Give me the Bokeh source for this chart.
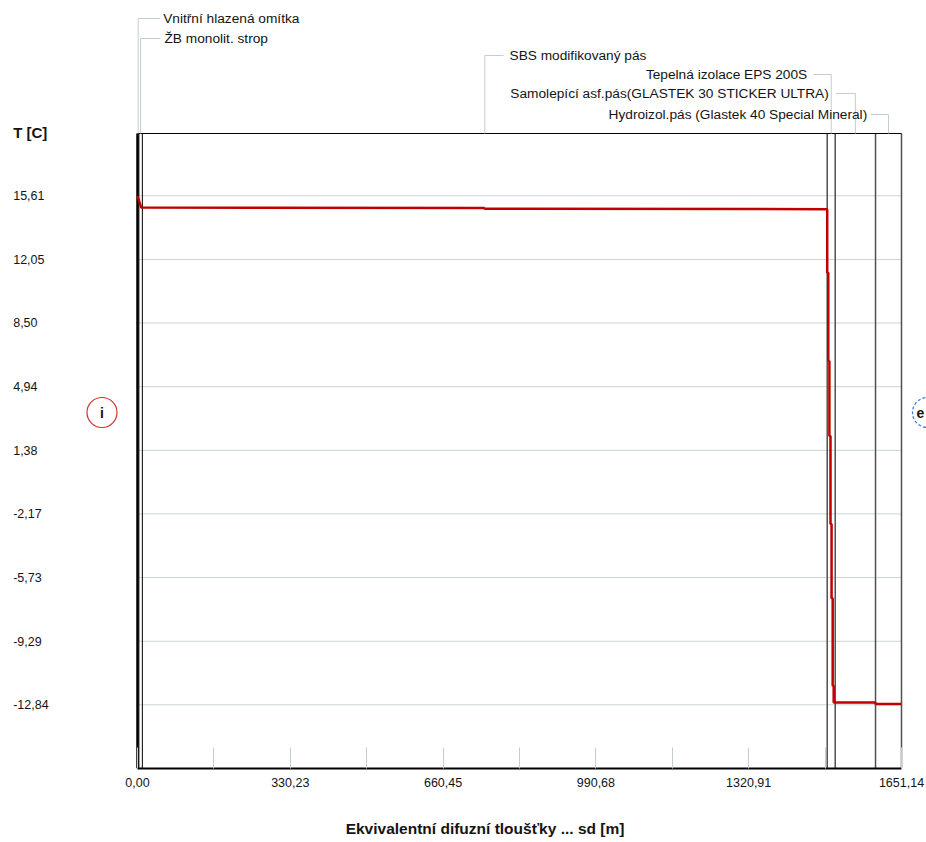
from bokeh.plotting import figure
from bokeh.models import Range1d, FixedTicker
from bokeh.core.properties import value
from bokeh.embed import file_html
from bokeh.resources import INLINE

# ---------------- data ----------------
layer_names = [
    "Vnitřní hlazená omítka",
    "ŽB monolit. strop",
    "SBS modifikovaný pás",
    "Tepelná izolace EPS 200S",
    "Samolepící asf.pás(GLASTEK 30 STICKER ULTRA)",
    "Hydroizol.pás (Glastek 40 Special Mineral)",
]
layer_sd_end = [3.0, 10.5, 1490.6, 1507.9, 1595.0, 1651.14]   # cumulative sd [m]

profile_sd = [0.0, 8.0, 749.8, 749.8, 1490.6,
              1490.6, 1492.9, 1492.9, 1495.3, 1495.3, 1497.7, 1497.7, 1500.0,
              1500.0, 1502.4, 1502.4, 1504.6, 1504.6, 1506.9, 1506.9,
              1595.0, 1595.0, 1651.14]
profile_T = [15.61, 14.95, 14.93, 14.88, 14.86,
             11.31, 11.31, 6.38, 6.38, 2.19, 2.19, -2.74, -2.74,
             -6.88, -6.88, -11.77, -11.77, -12.71, -12.71, -12.71,
             -12.71, -12.79, -12.79]

y_ticks = [15.61, 12.05, 8.50, 4.94, 1.38, -2.17, -5.73, -9.29, -12.84]
y_tick_labels = ["15,61", "12,05", "8,50", "4,94", "1,38", "-2,17", "-5,73", "-9,29", "-12,84"]

x_ticks = [0.0, 165.1135, 330.227, 495.3405, 660.454, 825.5675, 990.681,
           1155.7945, 1320.908, 1486.0215, 1651.14]
x_tick_labels = ["0,00", "", "330,23", "", "660,45", "", "990,68", "", "1320,91", "", "1651,14"]

x_title = "Ekvivalentní difuzní tloušťky ... sd [m]"
y_title = "T [C]"

X_MIN, X_MAX = 0.0, 1651.14
Y_MIN, Y_MAX = -16.40, 19.09

# ---------------- layout / style ----------------
FONT = "Liberation Sans"
TXT = "#141414"
LEADER = "#c4cece"
GRID = "#cad6d6"
W, H = 926, 842
# pixel geometry of the chart box inside the canvas
FX0, FX1 = 137.0, 901.0
FY0, FY1 = 133.0, 768.0


def dx(px):
    return X_MIN + (px - FX0) / (FX1 - FX0) * (X_MAX - X_MIN)


def dy(py):
    return Y_MAX - (py - FY0) / (FY1 - FY0) * (Y_MAX - Y_MIN)


p = figure(width=W, height=H,
           x_range=Range1d(dx(0), dx(W)), y_range=Range1d(Y_MIN, dy(0)),
           output_backend="svg", toolbar_location=None, y_axis_location=None,
           min_border_left=0, min_border_right=0, min_border_top=0,
           min_border_bottom=int(H - FY1))
p.background_fill_color = "white"
p.border_fill_color = "white"
p.outline_line_color = None
p.grid.visible = False

xa = p.xaxis[0]
xa.bounds = (X_MIN, X_MAX)
xa.ticker = FixedTicker(ticks=x_ticks)
xa.major_label_overrides = dict(zip(x_ticks, x_tick_labels))
xa.axis_line_color = "black"
xa.axis_line_width = 2
xa.major_tick_line_color = LEADER
xa.major_tick_in = 21
xa.major_tick_out = 0
xa.minor_tick_line_color = None
xa.major_label_standoff = 9
xa.major_label_text_font = FONT
xa.major_label_text_font_size = "12.5px"
xa.major_label_text_color = TXT
# leading no-break spaces shift the centred title a little to the right, as in the original
xa.axis_label = "\u00a0" * 10 + x_title
xa.axis_label_standoff = 30
xa.axis_label_text_font = FONT
xa.axis_label_text_font_size = "15.5px"
xa.axis_label_text_font_style = "bold"
xa.axis_label_text_color = TXT

# horizontal grid lines at the temperature ticks
p.segment(x0=[X_MIN] * len(y_ticks), x1=[X_MAX] * len(y_ticks), y0=y_ticks, y1=y_ticks,
          line_color=GRID, line_width=1)

# layer boundaries
nb = len(layer_sd_end)
p.segment(x0=layer_sd_end[:2], x1=layer_sd_end[:2], y0=[Y_MIN] * 2, y1=[Y_MAX] * 2,
          line_color="black", line_width=1)
p.segment(x0=layer_sd_end[2:], x1=layer_sd_end[2:], y0=[Y_MIN] * (nb - 2), y1=[Y_MAX] * (nb - 2),
          line_color="#505050", line_width=1.5)

# chart box: top and left edges
p.segment(x0=[X_MIN], x1=[X_MAX], y0=[Y_MAX], y1=[Y_MAX], line_color="black", line_width=1)
p.segment(x0=[X_MIN], x1=[X_MIN], y0=[Y_MIN], y1=[Y_MAX], line_color="black", line_width=2.5)

# temperature profile
p.line(profile_sd, profile_T, line_color="#c00000", line_width=2.5)

# y tick labels (left aligned) and axis title
p.text(x=[dx(12.7)] * len(y_ticks), y=y_ticks, text=y_tick_labels,
       text_align="left", text_baseline="middle", text_font=value(FONT),
       text_font_size=value("12.5px"), text_color=TXT)
p.text(x=[dx(12.7)], y=[dy(131.7)], text=[y_title], text_align="left", text_baseline="middle",
       text_font=value(FONT), text_font_size=value("15px"), text_font_style="bold",
       text_color=TXT)

# layer labels with leader lines
leader_y_px = [18, 38, 55, 74, 93, 114]
label_side = ["right", "right", "right", "left", "left", "left"]
leader_end_px = [160, 160, 503, 813, 835, 870]
text_x_px = [162.7, 164.0, 509.0, 806.7, 828.3, 866.7]

starts = [0.0] + layer_sd_end[:-1]
mids = [(s + e) / 2.0 for s, e in zip(starts, layer_sd_end)]
xs, ys = [], []
for m, ly, le in zip(mids, leader_y_px, leader_end_px):
    xs.append([m, m, dx(le)])
    ys.append([Y_MAX, dy(ly), dy(ly)])
p.multi_line(xs, ys, line_color=LEADER, line_width=1)

for name, ly, side, tx in zip(layer_names, leader_y_px, label_side, text_x_px):
    p.text(x=[dx(tx)], y=[dy(ly)], text=[name],
           text_align="left" if side == "right" else "right", text_baseline="middle",
           text_font=value(FONT), text_font_size=value("13.7px"), text_color=TXT)

# interior / exterior markers
p.scatter(x=[dx(101.5)], y=[dy(412)], marker="circle", size=30, fill_color=None,
          line_color="#d03030", line_width=1.2)
p.text(x=[dx(101.5)], y=[dy(412)], text=["i"], text_align="center", text_baseline="middle",
       text_font=value(FONT), text_font_size=value("14px"), text_font_style="bold",
       text_color=TXT)
p.scatter(x=[dx(927)], y=[dy(412)], marker="circle", size=30, fill_color=None,
          line_color="#3a7ae0", line_width=1.2, line_dash="3 2")
p.text(x=[dx(920)], y=[dy(412)], text=["e"], text_align="center", text_baseline="middle",
       text_font=value(FONT), text_font_size=value("14px"), text_font_style="bold",
       text_color=TXT)

open("out.html", "w").write(file_html(p, INLINE))
